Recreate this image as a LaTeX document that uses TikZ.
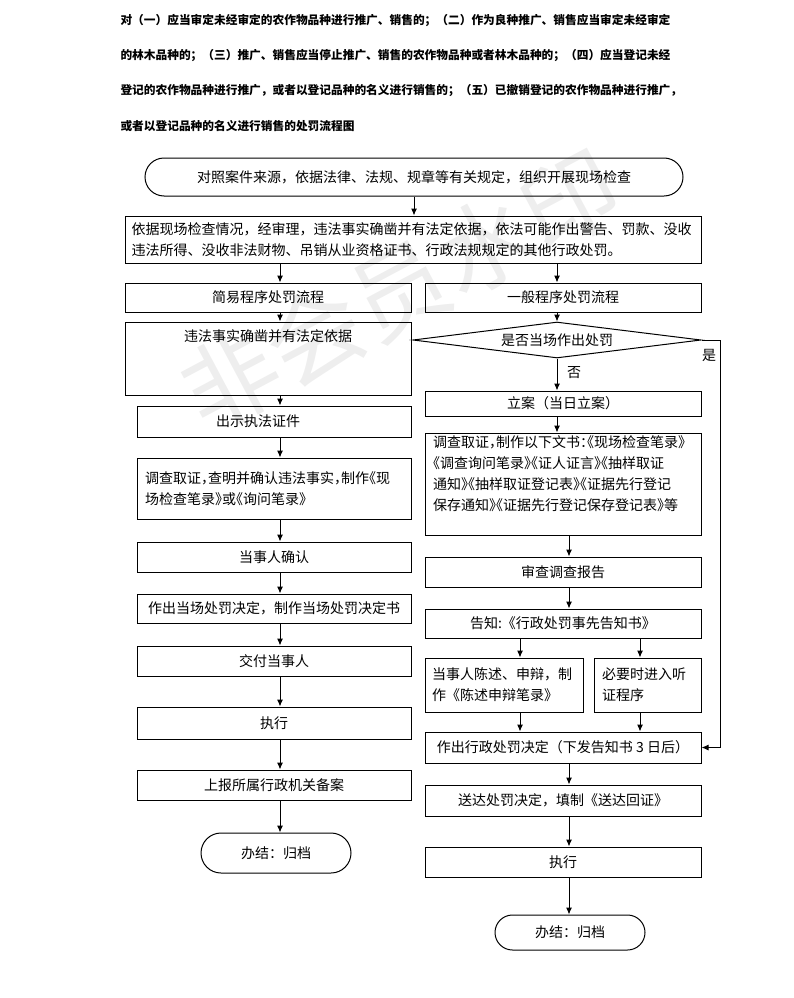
\documentclass[tikz,border=0pt]{standalone}
\usepackage{fontspec}
\setmainfont{Noto Sans CJK SC}
\newfontfamily\halffont[RawFeature=+halt]{Noto Sans CJK SC}
\usetikzlibrary{shapes.geometric, shapes.misc, arrows.meta}
\newcommand\boxfont{\fontsize{14}{21}\selectfont}
\newcommand\headfont{\fontsize{11.7}{14}\selectfont\bfseries}
\tikzset{
	stepbox/.style = {draw, rectangle, inner sep=0pt, font=\boxfont},
	endbox/.style = {draw, rounded rectangle, inner sep=0pt, font=\boxfont},
	decision/.style = {draw, diamond, aspect=8, inner sep=0pt, font=\boxfont},
	headline/.style = {anchor=west, inner sep=0pt, font=\headfont},
	wmark/.style = {rotate=28, text=gray!13, inner sep=0pt, font=\fontsize{96}{96}\selectfont}
}

\begin{document}
\begin{tikzpicture}[x=1pt, y=-1pt, line width=1pt, >={Latex[length=7pt,width=6pt]}]
\useasboundingbox (0,0) rectangle (793,998);

% WATERMARK
\node (mark) [wmark] at (400,290) {非会员水印};

% NODES
% heading
\node (head1) [headline] at (120,20) {对（一）应当审定未经审定的农作物品种进行推广、销售的；（二）作为良种推广、销售应当审定未经审定};
\node (head2) [headline] at (120,55.3) {的林木品种的；（三）推广、销售应当停止推广、销售的农作物品种或者林木品种的；（四）应当登记未经};
\node (head3) [headline] at (120,90.7) {登记的农作物品种进行推广，或者以登记品种的名义进行销售的；（五）已撤销登记的农作物品种进行推广，};
\node (head4) [headline] at (120,126) {或者以登记品种的名义进行销售的处罚流程图};
% top
\node (start) [endbox, minimum width=538pt, minimum height=38pt] at (414,177) {对照案件来源，依据法律、法规、规章等有关规定，组织开展现场检查};
\node (rule) [stepbox, minimum width=576pt, minimum height=47pt, text width=563pt, align=left] at (413,239.5) {依据现场检查情况，经审理，违法事实确凿并有法定依据，依法可能作出警告、罚款、没收\\违法所得、没收非法财物、吊销从业资格证书、行政法规规定的其他行政处罚。};
% simple procedure
\node (simple) [stepbox, minimum width=286pt, minimum height=29pt] at (268,297.5) {简易程序处罚流程};
\node (fact) [stepbox, minimum width=286pt, minimum height=73pt, label={[font=\boxfont, anchor=north, yshift=-4pt]north:违法事实确凿并有法定依据}] at (268,358.5) {};
\node (show) [stepbox, minimum width=274pt, minimum height=31pt, label={[font=\boxfont, xshift=-16pt]center:出示执法证件}] at (274,421.5) {};
\node (linv) [stepbox, minimum width=274pt, minimum height=61pt, text width=258pt, align=left, font=\boxfont\halffont] at (274,488.5) {调查取证，查明并确认违法事实，制作《现\\场检查笔录》或《询问笔录》};
\node (confirm) [stepbox, minimum width=274pt, minimum height=30pt] at (274,557) {当事人确认};
\node (spot) [stepbox, minimum width=274pt, minimum height=29pt] at (274,608.5) {作出当场处罚决定，制作当场处罚决定书};
\node (deliver) [stepbox, minimum width=274pt, minimum height=30pt] at (274,661) {交付当事人};
\node (exec1) [stepbox, minimum width=274pt, minimum height=32pt] at (274,723) {执行};
\node (report) [stepbox, minimum width=274pt, minimum height=30pt] at (274,785) {上报所属行政机关备案};
\node (end1) [endbox, minimum width=150pt, minimum height=40pt] at (276,853) {办结：归档};
% general procedure
\node (general) [stepbox, minimum width=276pt, minimum height=29pt] at (563,297.5) {一般程序处罚流程};
\node (ask) [decision, minimum width=288pt, minimum height=36pt] at (557,340) {是否当场作出处罚};
\node (yes) [font=\boxfont, inner sep=0pt] at (709,355) {是};
\node (no) [font=\boxfont, inner sep=0pt] at (574,373) {否};
\node (lian) [stepbox, minimum width=276pt, minimum height=25pt] at (563,403.5) {立案（当日立案）};
\node (inv) [stepbox, minimum width=276pt, minimum height=102pt, label={[anchor=north west, align=left, inner sep=0pt, font=\boxfont\halffont, xshift=8pt, yshift=-3pt]north west:调查取证，制作以下文书：《现场检查笔录》\\《调查询问笔录》《证人证言》《抽样取证\\通知》《抽样取证登记表》《证据先行登记\\保存通知》《证据先行登记保存登记表》等}] at (563,484) {};
\node (review) [stepbox, minimum width=276pt, minimum height=30pt] at (563,572) {审查调查报告};
\node (notify) [stepbox, minimum width=276pt, minimum height=29pt] at (563,623.5) {告知:《行政处罚事先告知书》};
\node (state) [stepbox, minimum width=158pt, minimum height=54pt, text width=144pt, align=left] at (504,685) {当事人陈述、申辩，制\\作《陈述申辩笔录》};
\node (hear) [stepbox, minimum width=107pt, minimum height=54pt, text width=91pt, align=left] at (647.5,685) {必要时进入听\\证程序};
\node (decide) [stepbox, minimum width=276pt, minimum height=31pt] at (563,747.5) {作出行政处罚决定（下发告知书 3 日后）};
\node (send) [stepbox, minimum width=276pt, minimum height=31pt] at (563,800.5) {送达处罚决定，填制《送达回证》};
\node (exec2) [stepbox, minimum width=276pt, minimum height=30pt] at (563,862) {执行};
\node (end2) [endbox, minimum width=150pt, minimum height=35pt] at (570,932.5) {办结：归档};
% arrow lines
\coordinate (lcol) at (280,0);
\coordinate (rcol) at (557,0);
\coordinate (rlow) at (569,0);
\coordinate (lsplit) at (520,0);
\coordinate (rsplit) at (640,0);
\coordinate (yesturn) at (720,340);

%CONNECTIONS
\draw [->] (start.south) -- (start.south |- rule.north);
\draw [->] (rule.south -| lcol) -- (simple.north -| lcol);
\draw [->] (rule.south -| rcol) -- (general.north -| rcol);
% simple
\draw [->] (simple.south -| lcol) -- (fact.north -| lcol);
\draw [->] (fact.south -| lcol) -- (show.north -| lcol);
\draw [->] (show.south -| lcol) -- (linv.north -| lcol);
\draw [->] (linv.south -| lcol) -- (confirm.north -| lcol);
\draw [->] (confirm.south -| lcol) -- (spot.north -| lcol);
\draw [->] (spot.south -| lcol) -- (deliver.north -| lcol);
\draw [->] (deliver.south -| lcol) -- (exec1.north -| lcol);
\draw [->] (exec1.south -| lcol) -- (report.north -| lcol);
\draw [->] (report.south -| lcol) -- (end1.north -| lcol);
% general
\draw [->] (general.south -| rcol) -- (ask.north);
\draw [->] (ask.south) -- (lian.north -| rcol);
\draw [->] (lian.south -| rcol) -- (inv.north -| rcol);
\draw [->] (inv.south -| rlow) -- (review.north -| rlow);
\draw [->] (review.south -| rlow) -- (notify.north -| rlow);
\draw [->] (notify.south -| lsplit) -- (state.north -| lsplit);
\draw [->] (notify.south -| rsplit) -- (hear.north -| rsplit);
\draw [->] (state.south -| lsplit) -- (decide.north -| lsplit);
\draw [->] (hear.south -| rsplit) -- (decide.north -| rsplit);
\draw [->] (decide.south -| rlow) -- (send.north -| rlow);
\draw [->] (send.south -| rlow) -- (exec2.north -| rlow);
\draw [->] (exec2.south -| rlow) -- (end2.north -| rlow);
\draw [->] (ask.east) -- (yesturn) |- (decide.east);

\end{tikzpicture}
\end{document}
